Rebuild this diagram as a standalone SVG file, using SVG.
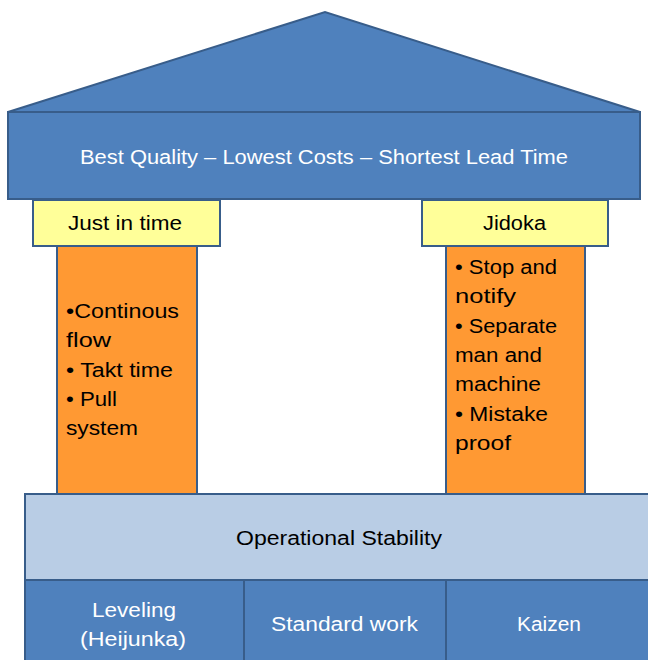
<svg xmlns="http://www.w3.org/2000/svg" width="648" height="660" viewBox="0 0 648 660">
  <style>
    .blue { fill: #4F81BD; stroke: #385D8A; stroke-width: 2; }
    .yellow { fill: #FFFF99; stroke: #385D8A; stroke-width: 2; }
    .orange { fill: #FF9933; stroke: #385D8A; stroke-width: 2; }
    .light { fill: #B9CDE5; stroke: #385D8A; stroke-width: 2; }
    text { font-family: "Liberation Sans", "Noto Sans", Arial, sans-serif; font-size: 20px; }
    .w { fill: #FFFFFF; }
    .k { fill: #000000; }
  </style>
  <rect width="648" height="660" fill="#FFFFFF"/>

  <!-- roof -->
  <g id="roof">
    <polygon class="blue" points="8,112 325,12 640,112"/>
  </g>

  <!-- beam with goal statement -->
  <g id="goals">
    <rect class="blue" x="8" y="112" width="632" height="87"/>
    <text class="w" x="80" y="164" textLength="488" lengthAdjust="spacingAndGlyphs">Best Quality – Lowest Costs – Shortest Lead Time</text>
  </g>

  <!-- left pillar -->
  <g id="jit-pillar">
    <rect class="orange" x="57" y="246" width="140" height="248"/>
    <text class="k" x="66" y="318" textLength="113" lengthAdjust="spacingAndGlyphs">•Continous</text>
    <text class="k" x="66" y="347" textLength="45" lengthAdjust="spacingAndGlyphs">flow</text>
    <text class="k" x="66" y="377" textLength="107" lengthAdjust="spacingAndGlyphs">• Takt time</text>
    <text class="k" x="66" y="406" textLength="51" lengthAdjust="spacingAndGlyphs">• Pull</text>
    <text class="k" x="66" y="435" textLength="72" lengthAdjust="spacingAndGlyphs">system</text>
  </g>
  <g id="jit-head">
    <rect class="yellow" x="33" y="200" width="187" height="46"/>
    <text class="k" x="68" y="230" textLength="114" lengthAdjust="spacingAndGlyphs">Just in time</text>
  </g>

  <!-- right pillar -->
  <g id="jidoka-pillar">
    <rect class="orange" x="446" y="246" width="139" height="248"/>
    <text class="k" x="455" y="274" textLength="102" lengthAdjust="spacingAndGlyphs">• Stop and</text>
    <text class="k" x="455" y="303" textLength="61" lengthAdjust="spacingAndGlyphs">notify</text>
    <text class="k" x="455" y="333" textLength="102" lengthAdjust="spacingAndGlyphs">• Separate</text>
    <text class="k" x="455" y="362" textLength="87" lengthAdjust="spacingAndGlyphs">man and</text>
    <text class="k" x="455" y="391" textLength="86" lengthAdjust="spacingAndGlyphs">machine</text>
    <text class="k" x="455" y="421" textLength="93" lengthAdjust="spacingAndGlyphs">• Mistake</text>
    <text class="k" x="455" y="450" textLength="56" lengthAdjust="spacingAndGlyphs">proof</text>
  </g>
  <g id="jidoka-head">
    <rect class="yellow" x="422" y="200" width="186" height="46"/>
    <text class="k" x="483" y="230" textLength="63" lengthAdjust="spacingAndGlyphs">Jidoka</text>
  </g>

  <!-- foundation -->
  <g id="stability">
    <rect class="light" x="25" y="494" width="630" height="86"/>
    <text class="k" x="236" y="545" textLength="206" lengthAdjust="spacingAndGlyphs">Operational Stability</text>
  </g>
  <g id="leveling">
    <rect class="blue" x="25" y="580" width="219" height="90"/>
    <text class="w" x="92" y="617" textLength="84" lengthAdjust="spacingAndGlyphs">Leveling</text>
    <text class="w" x="80" y="646" textLength="106" lengthAdjust="spacingAndGlyphs">(Heijunka)</text>
  </g>
  <g id="standard-work">
    <rect class="blue" x="244" y="580" width="202" height="90"/>
    <text class="w" x="271" y="631" textLength="147" lengthAdjust="spacingAndGlyphs">Standard work</text>
  </g>
  <g id="kaizen">
    <rect class="blue" x="446" y="580" width="209" height="90"/>
    <text class="w" x="517" y="631" textLength="64" lengthAdjust="spacingAndGlyphs">Kaizen</text>
  </g>

  <g id="connectors"></g>
</svg>
